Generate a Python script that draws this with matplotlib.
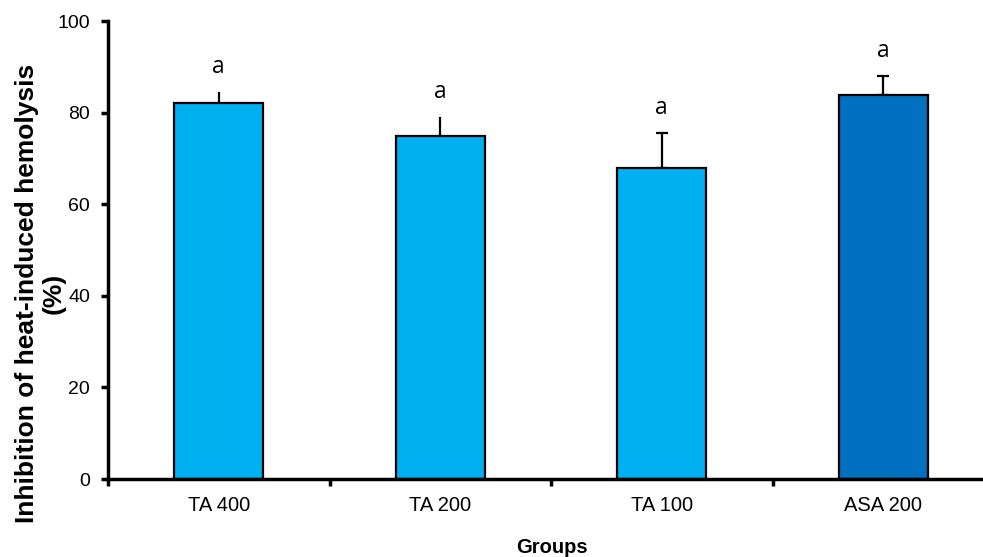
import numpy as np
import matplotlib
matplotlib.use("Agg")
import matplotlib.pyplot as plt

# data
groups = ["TA 400", "TA 200", "TA 100", "ASA 200"]
values = [82.1, 74.9, 67.9, 83.8]
errors = [2.4, 4.1, 7.6, 4.2]
has_cap = [False, False, True, True]
letters = ["a", "a", "a", "a"]
colors = ["#00B0F0", "#00B0F0", "#00B0F0", "#0070C0"]

plt.rcParams["font.family"] = ["Liberation Sans", "DejaVu Sans"]

fig = plt.figure(figsize=(9.83, 5.57), dpi=100)
ax = fig.add_axes([108 / 983, 1 - 479 / 557, 886 / 983, 458 / 557])

x = np.arange(len(groups))
ax.bar(x, values, width=0.40, color=colors, edgecolor="black", linewidth=1.6, zorder=2)

for xi, v, e, cap in zip(x, values, errors, has_cap):
    ax.errorbar(xi, v, yerr=[[0], [e]], fmt="none", ecolor="black",
                elinewidth=1.6, capsize=4 if cap else 0, capthick=1.6, zorder=1)

for xi, v, e, lab in zip(x, values, errors, letters):
    ax.text(xi, v + e + 5.5, lab, ha="center", va="center", fontsize=16.5,
            family=["Open Sans", "DejaVu Sans"])

ax.set_xlim(-0.5, 3.5)
ax.set_ylim(0, 100)
ax.set_yticks([0, 20, 40, 60, 80, 100])
ax.set_xticks(x)
ax.set_xticklabels(groups, fontsize=14.5)
ax.set_xticks(np.arange(-0.5, 3.5, 1.0), minor=True)
ax.tick_params(axis="x", which="major", length=0, pad=12)
ax.tick_params(axis="x", which="minor", length=5, width=2.5, direction="out")
ax.tick_params(axis="y", length=5, width=2.5, direction="out", labelsize=14, pad=8)

for s in ["top", "right"]:
    ax.spines[s].set_visible(False)
for s in ["left", "bottom"]:
    ax.spines[s].set_linewidth(2.5)

# axis titles placed in figure coords to match the original layout
fig.text(40 / 983, 1 - 293 / 557, "Inhibition of heat-induced hemolysis\n(%)",
         rotation=90, ha="center", va="center", multialignment="center",
         fontsize=19, fontweight="bold", linespacing=1.15)
fig.text(552 / 983, 1 - 553 / 557, "Groups", ha="center", va="baseline",
         fontsize=14.5, fontweight="bold")

fig.savefig("out.png", dpi=100)
